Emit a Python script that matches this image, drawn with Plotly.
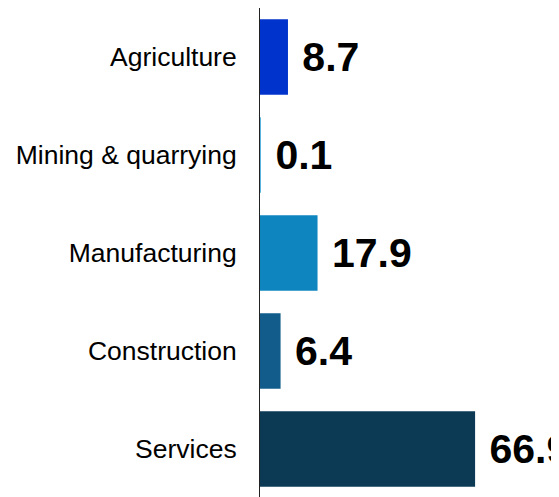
import plotly.graph_objects as go

categories = ["Agriculture", "Mining & quarrying", "Manufacturing", "Construction", "Services"]
values = [8.7, 0.1, 17.9, 6.4, 66.9]
colors = ["#0033cc", "#5ab4e0", "#0f85bf", "#115c8a", "#0c3a55"]
value_labels = ["8.7", "0.1", "17.9", "6.4", "66.9"]

fig = go.Figure()
fig.add_trace(go.Bar(
    y=categories,
    x=values,
    orientation="h",
    marker=dict(color=colors, line=dict(width=0)),
    text=["\u00a0" + v for v in value_labels],
    textposition="outside",
    cliponaxis=False,
    constraintext="none",
    textfont=dict(family="Liberation Sans, Arial, sans-serif", size=41, color="black", weight="bold"),
    hoverinfo="skip",
))

fig.update_layout(
    width=551,
    height=490,
    margin=dict(l=252, r=0, t=0, b=0),
    paper_bgcolor="white",
    plot_bgcolor="white",
    bargap=0.23,
    showlegend=False,
    font=dict(family="Liberation Sans, Arial, sans-serif", color="black"),
)
fig.update_xaxes(range=[0, 93], showticklabels=False, showgrid=False, zeroline=False, showline=False)
fig.update_yaxes(
    categoryorder="array",
    categoryarray=categories,
    autorange="reversed",
    showline=True,
    linecolor="#222222",
    linewidth=1,
    showgrid=False,
    ticks="",
    ticklabelstandoff=17,
    tickfont=dict(family="Liberation Sans, Arial, sans-serif", size=26.5, color="black"),
)

fig.write_html("out.html")
